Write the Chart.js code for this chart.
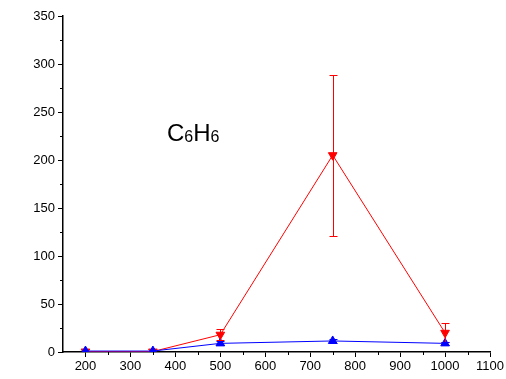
<!DOCTYPE html>
<html>
<head>
<meta charset="utf-8">
<script src="https://cdn.jsdelivr.net/npm/chart.js@4/dist/chart.umd.min.js"></script>
<style>
  html, body { margin: 0; padding: 0; background: #fff; }
  #wrap { position: relative; width: 506px; height: 379px; }
</style>
</head>
<body>
<div id="wrap"><canvas id="chart" width="506" height="379"></canvas></div>
<script>
// Data
var xValues = [200, 350, 500, 750, 1000];
var redValues = [0.5, 0.5, 18, 205, 20];
var redErrors = [0, 0, 6, 84, 10];
var blueValues = [1, 1, 9, 11.5, 9];
var blueErrors = [0, 0, 2, 2, 1.5];
var xTicks = [200, 300, 400, 500, 600, 700, 800, 900, 1000, 1100];
var yTicks = [0, 50, 100, 150, 200, 250, 300, 350];

function toPoints(xs, ys) {
  return xs.map(function (x, i) { return { x: x, y: ys[i] }; });
}

// error bars + minor ticks + formula label
var extras = {
  id: 'extras',
  afterDatasetsDraw: function (chart) {
    var ctx = chart.ctx;
    var xs = chart.scales.x, ys = chart.scales.y;
    function bars(vals, errs, color) {
      ctx.save();
      ctx.strokeStyle = color;
      ctx.lineWidth = 1;
      vals.forEach(function (v, i) {
        var e = errs[i];
        if (!e) return;
        var px = Math.round(xs.getPixelForValue(xValues[i])) + 0.5;
        var top = Math.round(ys.getPixelForValue(v + e)) + 0.5;
        var bot = Math.round(ys.getPixelForValue(v - e)) + 0.5;
        ctx.beginPath();
        ctx.moveTo(px, top); ctx.lineTo(px, bot);
        ctx.moveTo(px - 4, top); ctx.lineTo(px + 4, top);
        ctx.moveTo(px - 4, bot); ctx.lineTo(px + 4, bot);
        ctx.stroke();
      });
      ctx.restore();
    }
    bars(redValues, redErrors, '#ff0000');
    bars(blueValues, blueErrors, '#0000ff');
  },
  afterDraw: function (chart) {
    var ctx = chart.ctx;
    var xs = chart.scales.x, ys = chart.scales.y;
    var area = chart.chartArea;
    ctx.save();
    ctx.strokeStyle = '#000';
    ctx.lineWidth = 1;
    ctx.beginPath();
    for (var v = 250; v < 1100; v += 100) {
      var px = Math.round(xs.getPixelForValue(v)) + 0.5;
      ctx.moveTo(px, area.bottom); ctx.lineTo(px, area.bottom + 3);
    }
    for (var w = 25; w < 350; w += 50) {
      var py = Math.round(ys.getPixelForValue(w)) + 0.5;
      ctx.moveTo(area.left, py); ctx.lineTo(area.left - 3, py);
    }
    ctx.stroke();

    // formula label
    ctx.fillStyle = '#000';
    ctx.textBaseline = 'alphabetic';
    var big = '24px "Liberation Sans", Arial, sans-serif';
    var small = '16px "Liberation Sans", Arial, sans-serif';
    var x = 167, y = 141;
    var parts = [['C', big, 0], ['6', small, 1], ['H', big, 0], ['6', small, 1]];
    parts.forEach(function (p) {
      ctx.font = p[1];
      ctx.fillText(p[0], x, y + p[2]);
      x += ctx.measureText(p[0]).width;
    });
    ctx.restore();
  }
};

var tickFont = { family: '"Liberation Sans", Arial, sans-serif', size: 13 };

new Chart(document.getElementById('chart'), {
  type: 'scatter',
  data: {
    datasets: [{
      label: 'blue',
      data: toPoints(xValues, blueValues),
      showLine: true,
      borderColor: '#0000ff',
      backgroundColor: '#0000ff',
      borderWidth: 1,
      pointStyle: 'triangle',
      pointRadius: 5,
      pointBorderWidth: 1
    }, {
      label: 'red',
      data: toPoints(xValues, redValues),
      showLine: true,
      borderColor: '#ff0000',
      backgroundColor: '#ff0000',
      borderWidth: 1,
      pointStyle: 'triangle',
      pointRotation: 180,
      pointRadius: 5,
      pointBorderWidth: 1
    }]
  },
  options: {
    responsive: false,
    animation: false,
    layout: { padding: { top: 16, right: 13, left: 0, bottom: 0 } },
    plugins: { legend: { display: false }, tooltip: { enabled: false } },
    scales: {
      x: {
        type: 'linear',
        min: 150, max: 1100,
        afterBuildTicks: function (s) { s.ticks = xTicks.map(function (v) { return { value: v }; }); },
        afterFit: function (s) { s.height = 27; },
        ticks: { color: '#000', font: tickFont, padding: 2, maxRotation: 0, autoSkip: false,
          callback: function (v) { return String(v); } },
        grid: { display: true, drawOnChartArea: false, drawTicks: true, tickLength: 5, color: '#000' },
        border: { display: true, color: '#000', width: 1.5 }
      },
      y: {
        type: 'linear',
        min: 0, max: 350,
        afterBuildTicks: function (s) { s.ticks = yTicks.map(function (v) { return { value: v }; }); },
        afterFit: function (s) { s.width = 63; },
        ticks: { color: '#000', font: tickFont, padding: 3, callback: function (v) { return String(v); } },
        grid: { display: true, drawOnChartArea: false, drawTicks: true, tickLength: 5, color: '#000' },
        border: { display: true, color: '#000', width: 1.5 }
      }
    }
  },
  plugins: [extras]
});
</script>
</body>
</html>
